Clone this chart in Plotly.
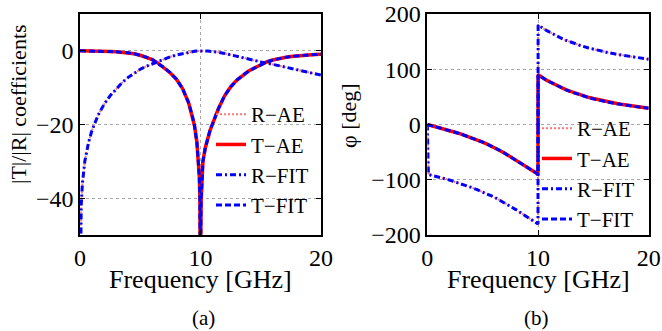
import plotly.graph_objects as go

# ---- data ----
freq = [0, 0.05, 0.1, 0.2, 0.4, 0.7, 1, 1.5, 2, 2.5, 3, 3.5, 4, 4.5, 5, 5.5, 6, 6.5, 7, 7.5,
        8, 8.5, 9, 9.3, 9.5, 9.7, 9.8, 9.9, 9.95, 9.99, 10, 10.01, 10.05, 10.1, 10.2, 10.4,
        10.6, 10.8, 11, 11.5, 12, 12.5, 13, 13.5, 14, 14.5, 15, 15.5, 16, 16.5, 17, 17.5,
        18, 18.5, 19, 19.5, 20]

r_mag_ae = [-80, -48, -42, -36, -30, -25, -21.5, -17.5, -14.5, -12.2, -10.3, -8.6, -7.2, -6.0,
            -5.0, -4.2, -3.5, -2.8, -2.2, -1.6, -1.15, -0.75, -0.4, -0.22, -0.12, -0.05, -0.03,
            -0.01, 0, 0, 0, 0, 0, 0, -0.01, -0.03, -0.07, -0.12, -0.18, -0.4, -0.7, -1.1, -1.5,
            -1.9, -2.3, -2.7, -3.0, -3.3, -3.65, -4.0, -4.35, -4.7, -5.05, -5.4, -5.8, -6.2, -6.6]
t_mag_ae = [0, 0, 0, 0, 0, -0.02, -0.03, -0.07, -0.12, -0.2, -0.28, -0.38, -0.5, -0.8, -1.2,
            -1.7, -2.4, -3.4, -4.6, -6.0, -7.7, -10.2, -14.0, -17.3, -20.3, -24.8, -28.3, -34,
            -40, -54, -80, -54, -41, -35, -30, -26.3, -23.5, -21.5, -19.8, -15.6, -12.2, -9.8,
            -8.0, -6.6, -5.5, -4.6, -3.7, -3.0, -2.5, -2.1, -1.8, -1.55, -1.35, -1.2, -1.1,
            -1.0, -0.95]
r_mag_fit = [-80, -48.5, -42, -36, -30, -25, -21.5, -17.5, -14.5, -12.2, -10.3, -8.6, -7.2,
             -6.0, -5.0, -4.2, -3.5, -2.8, -2.2, -1.6, -1.15, -0.75, -0.4, -0.22, -0.12, -0.05,
             -0.03, -0.01, 0, 0, 0, 0, 0, 0, -0.01, -0.03, -0.07, -0.12, -0.18, -0.4, -0.7, -1.1,
             -1.5, -1.9, -2.3, -2.7, -3.0, -3.3, -3.65, -4.0, -4.35, -4.7, -5.05, -5.4, -5.8,
             -6.2, -6.6]
t_mag_fit = [0, 0, 0, 0, 0, -0.02, -0.03, -0.07, -0.12, -0.2, -0.28, -0.38, -0.5, -0.8, -1.2,
             -1.7, -2.4, -3.4, -4.6, -6.0, -7.7, -10.2, -14.0, -17.3, -20.3, -24.8, -28.3, -34,
             -40, -54, -80, -54, -41, -35, -30, -26.3, -23.5, -21.5, -19.8, -15.6, -12.2, -9.8,
             -8.0, -6.6, -5.5, -4.6, -3.7, -3.0, -2.5, -2.1, -1.8, -1.55, -1.35, -1.2, -1.1,
             -1.0, -0.95]

t_ph_ae = [0, -0.25, -0.5, -1.0, -2.0, -3.5, -5.0, -7.6, -10.5, -14, -17, -20.5, -24, -28, -32,
           -36.5, -41, -46.5, -52, -58, -64, -70.5, -77, -81, -83.5, -86, -87.3, -88.7, -89.3,
           -89.9, -90, 89.9, 89.3, 88.7, 87.4, 84.8, 82.3, 79.9, 77.8, 72.5, 67.6, 63.2, 59.4,
           55.8, 52.6, 49.6, 47.0, 44.5, 42.3, 40.3, 38.4, 36.7, 35.1, 33.6, 32.2, 30.9, 29.5]
r_ph_ae = [0, -90.25, -90.5, -91, -92, -93.5, -95, -97.6, -100.5, -104, -107, -110.5, -114, -118,
           -122, -126.5, -131, -136.5, -142, -148, -154, -160.5, -167, -171, -173.5, -176,
           -177.3, -178.7, -179.3, -179.9, -180, 179.9, 179.3, 178.7, 177.4, 174.8, 172.3,
           169.9, 167.6, 162.2, 157.2, 152.6, 148.6, 145, 141.8, 138.8, 136.2, 133.7, 131.5,
           129.4, 127.5, 125.7, 124.0, 122.4, 120.9, 119.4, 118]
t_ph_fit = [0, -0.25, -0.5, -1.0, -2.0, -3.5, -5.0, -7.6, -10.5, -14, -17, -20.5, -24, -28, -32,
            -36.5, -41, -46.5, -52, -58, -64, -70.5, -77, -81, -83.5, -86, -87.3, -88.7, -89.3,
            -89.9, -90, 89.9, 89.3, 88.7, 87.4, 84.8, 82.3, 79.9, 77.8, 72.5, 67.4, 63.0, 59.0,
            55.4, 52.1, 49.1, 46.4, 43.9, 41.7, 39.7, 37.9, 36.2, 34.7, 33.3, 32.0, 30.8, 29.5]
r_ph_fit = [0, -90.25, -90.5, -91, -92, -93.5, -95, -97.6, -100.5, -104, -107, -110.5, -114,
            -118, -122, -126.5, -131, -136.5, -142, -148, -154, -160.5, -167, -171, -173.5, -176,
            -177.3, -178.7, -179.3, -179.9, -180, 179.9, 179.3, 178.7, 177.4, 174.8, 172.3,
            169.9, 167.6, 162.2, 157.2, 152.6, 148.6, 145, 141.8, 138.8, 136.2, 133.7, 131.5,
            129.4, 127.5, 125.7, 124.0, 122.4, 120.9, 119.4, 118]

series_names = ["R\u2212AE", "T\u2212AE", "R\u2212FIT", "T\u2212FIT"]
x_ticks = [0, 10, 20]
mag_ticks = [-40, -20, 0]
ph_ticks = [-200, -100, 0, 100, 200]

# ---- styles ----
FONT = "Liberation Serif"
styles = [
    dict(color="rgb(255,120,120)", dash="2px,2px", width=2),
    dict(color="rgb(255,0,0)", dash="solid", width=3.5),
    dict(color="rgb(0,0,255)", dash="6px,3px,2px,3px", width=3),
    dict(color="rgb(0,0,255)", dash="6px,3px", width=3),
]

fig = go.Figure()
mag_sets = [r_mag_ae, t_mag_ae, r_mag_fit, t_mag_fit]
ph_sets = [r_ph_ae, t_ph_ae, r_ph_fit, t_ph_fit]
for name, ys, st in zip(series_names, mag_sets, styles):
    fig.add_trace(go.Scatter(x=freq, y=ys, mode="lines", name=name, line=st,
                             xaxis="x", yaxis="y", legend="legend"))
for name, ys, st in zip(series_names, ph_sets, styles):
    fig.add_trace(go.Scatter(x=freq, y=ys, mode="lines", name=name, line=st,
                             xaxis="x2", yaxis="y2", legend="legend2"))

W, H = 662, 331
def px_x(p):
    return p / W
def px_y(p):
    return 1 - p / H

common_axis = dict(showline=True, linecolor="black", linewidth=1.5, mirror="allticks",
                   ticks="inside", ticklen=5, tickcolor="black", zeroline=False,
                   showgrid=True, gridcolor="#a8a8a8", griddash="dot", gridwidth=1,
                   automargin=False,
                   tickfont=dict(family=FONT, size=24, color="black"))

ydom = [px_y(235), px_y(14)]
legend_font = dict(family=FONT, size=21, color="black")
fig.update_layout(
    template="none",
    width=W, height=H, margin=dict(l=0, r=0, t=0, b=0, pad=0, autoexpand=False),
    paper_bgcolor="white", plot_bgcolor="white",
    font=dict(family=FONT, color="black"),
    xaxis=dict(domain=[px_x(80), px_x(321)], range=[0, 20], tickvals=x_ticks, anchor="y",
               **common_axis),
    yaxis=dict(domain=ydom, range=[-50, 10], tickvals=mag_ticks, anchor="x", **common_axis),
    xaxis2=dict(domain=[px_x(427.3), px_x(648.7)], range=[0, 20], tickvals=x_ticks,
                anchor="y2", **common_axis),
    yaxis2=dict(domain=ydom, range=[-200, 200], tickvals=ph_ticks, anchor="x2",
                **common_axis),
    legend=dict(x=px_x(211), y=px_y(94), xanchor="left", yanchor="top",
                bgcolor="rgba(255,255,255,0)", borderwidth=0, tracegroupgap=0,
                font=legend_font),
    legend2=dict(x=px_x(537), y=px_y(108), xanchor="left", yanchor="top",
                 bgcolor="rgba(255,255,255,0)", borderwidth=0, tracegroupgap=0,
                 font=legend_font),
    showlegend=True,
)

# white backings under the legends, hiding the gridlines but not the curves
fig.add_shape(type="rect", xref="paper", yref="paper", layer="between",
              x0=px_x(218), x1=px_x(320), y0=px_y(212), y1=px_y(100),
              fillcolor="white", line=dict(width=0))
fig.add_shape(type="rect", xref="paper", yref="paper", layer="between",
              x0=px_x(546), x1=px_x(647.5), y0=px_y(222), y1=px_y(113),
              fillcolor="white", line=dict(width=0))

ann_font = dict(family=FONT, size=26, color="black")
annotations = [
    dict(text="Frequency [GHz]", x=px_x(200.5), y=px_y(279)),
    dict(text="Frequency [GHz]", x=px_x(538), y=px_y(279)),
    dict(text="|T|/|R| coefficients", x=px_x(18), y=px_y(104), textangle=-90,
         font=dict(family=FONT, size=22, color="black")),
    dict(text="\u03c6 [deg]", x=px_x(349), y=px_y(116), textangle=-90,
         font=dict(family=FONT, size=22, color="black")),
    dict(text="(a)", x=px_x(203), y=px_y(318), font=dict(family=FONT, size=21, color="black")),
    dict(text="(b)", x=px_x(536), y=px_y(318), font=dict(family=FONT, size=21, color="black")),
]
for a in annotations:
    a.setdefault("font", ann_font)
    fig.add_annotation(xref="paper", yref="paper", xanchor="center", yanchor="middle",
                       showarrow=False, **a)

fig.write_html("out.html", config={"displayModeBar": False},
               post_script="document.body.style.margin='0';document.body.style.padding='0';")
